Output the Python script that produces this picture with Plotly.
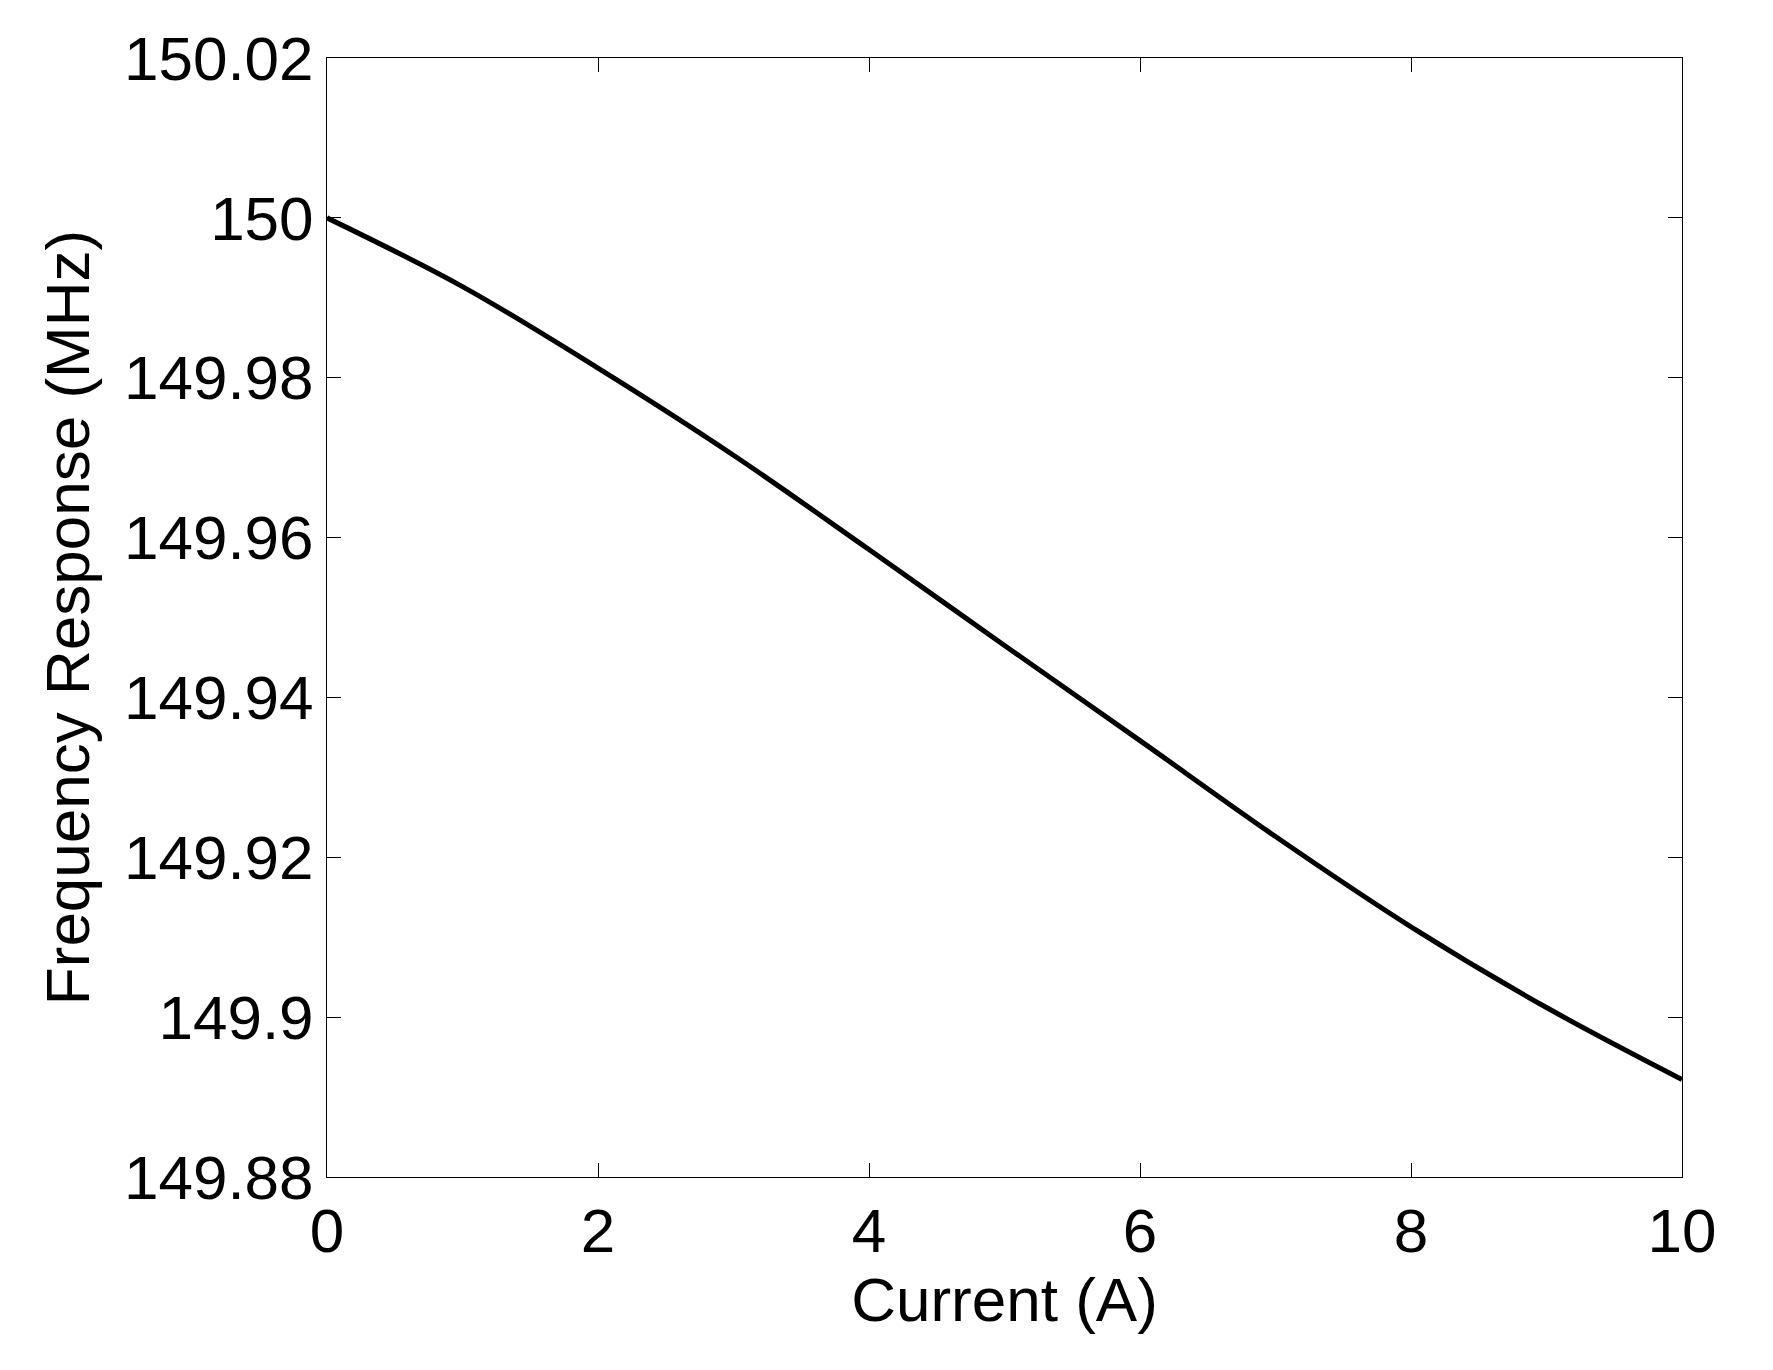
import plotly.graph_objects as go

current = [0, 1, 2, 3, 4, 5, 6, 7, 8, 9, 10]
freq = [150.0000, 149.9914, 149.9812, 149.9703, 149.9585, 149.9465,
        149.9346, 149.9226, 149.9113, 149.9012, 149.8922]

fig = go.Figure(go.Scatter(x=current, y=freq, mode='lines',
                           line=dict(color='black', width=5, shape='spline')))

ax = dict(showline=True, linecolor='black', linewidth=1, mirror='ticks',
          ticks='inside', ticklen=14, tickcolor='black', showgrid=False,
          zeroline=False, tickfont=dict(size=62, color='black'))

fig.update_layout(
    width=1773, height=1370, paper_bgcolor='white', plot_bgcolor='white',
    font=dict(family='Liberation Sans, Arial', color='black'),
    margin=dict(l=319, r=99, t=50, b=201),
    showlegend=False,
    xaxis=dict(ax, range=[0, 10], dtick=2,
               title=dict(text='Current (A)', font=dict(size=62), standoff=4)),
    yaxis=dict(ax, range=[149.88, 150.02], dtick=0.02,
               tickvals=[149.88, 149.9, 149.92, 149.94, 149.96, 149.98, 150, 150.02],
               ticktext=['149.88', '149.9', '149.92', '149.94', '149.96', '149.98', '150', '150.02'],
               title=dict(text='Frequency Response (MHz)', font=dict(size=62), standoff=14)),
)

fig.write_html("out.html")
